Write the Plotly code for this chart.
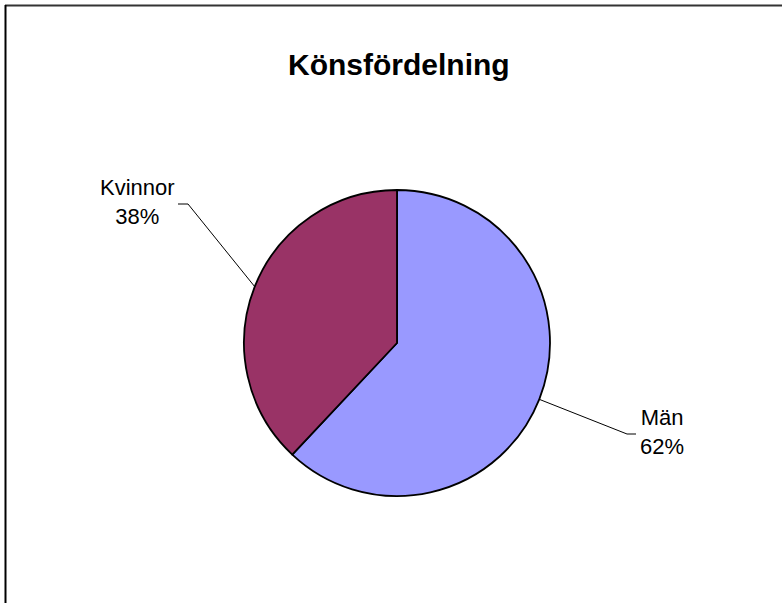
import numpy as np
import plotly.graph_objects as go

# ---- data ----
title = "Könsfördelning"
categories = ["Män", "Kvinnor"]
values = [62, 38]
colors = ["#9999FF", "#993366"]

# ---- layout constants (pixels) ----
W, H = 782, 603
CX, CY, R = 397, 343, 153           # pie centre & radius
# label text centre and leader-line elbow (pixels), per category
label_pos = {"Män": (662, 432), "Kvinnor": (137, 202)}
elbow = {"Män": [(627, 434), (636, 434)], "Kvinnor": [(188, 204), (178, 204)]}

def px(x):
    return x / W

def py(y):
    return 1 - y / H

fig = go.Figure()
fig.add_trace(go.Pie(
    labels=categories, values=values, sort=False, direction="clockwise", rotation=0,
    marker=dict(colors=colors, line=dict(color="black", width=1.8)),
    textinfo="none", hoverinfo="label+percent", showlegend=False,
    domain=dict(x=[px(CX - R), px(CX + R)], y=[py(CY + R), py(CY - R)]),
))

# labels and leader lines derived from slice angles
total = sum(values)
start = 0.0
shapes = []
annotations = []
for cat, v in zip(categories, values):
    frac = v / total
    mid = (start + frac / 2) * 2 * np.pi
    start += frac
    ex = CX + R * np.sin(mid)
    ey = CY - R * np.cos(mid)
    pts = [(ex, ey)] + elbow[cat]
    for (x0, y0), (x1, y1) in zip(pts[:-1], pts[1:]):
        shapes.append(dict(type="line", xref="paper", yref="paper",
                           x0=px(x0), y0=py(y0), x1=px(x1), y1=py(y1),
                           line=dict(color="black", width=1)))
    lx, ly = label_pos[cat]
    annotations.append(dict(x=px(lx), y=py(ly), xref="paper", yref="paper",
                            text=f"{cat}<br>{round(frac * 100)}%", showarrow=False,
                            xanchor="center", yanchor="middle", align="center",
                            font=dict(family="Liberation Sans, Arial", size=22, color="black")))

# chart frame (top and left visible)
shapes.append(dict(type="line", xref="paper", yref="paper", x0=px(5), y0=py(5.5), x1=1.0, y1=py(5.5),
                   line=dict(color="#333333", width=2)))
shapes.append(dict(type="line", xref="paper", yref="paper", x0=px(5.5), y0=py(5), x1=px(5.5), y1=0.0,
                   line=dict(color="black", width=2)))

annotations.append(dict(x=px(399), y=py(65), xref="paper", yref="paper", text=f"<b>{title}</b>",
                        showarrow=False, xanchor="center", yanchor="middle",
                        font=dict(family="Liberation Sans, Arial", size=30, color="black")))

fig.update_layout(
    width=W, height=H, autosize=False,
    margin=dict(l=0, r=0, t=0, b=0),
    paper_bgcolor="white", plot_bgcolor="white",
    shapes=shapes, annotations=annotations,
)
fig.write_html("out.html", config={"displayModeBar": False},
               post_script="document.body.style.margin='0';document.body.style.overflow='hidden';")
